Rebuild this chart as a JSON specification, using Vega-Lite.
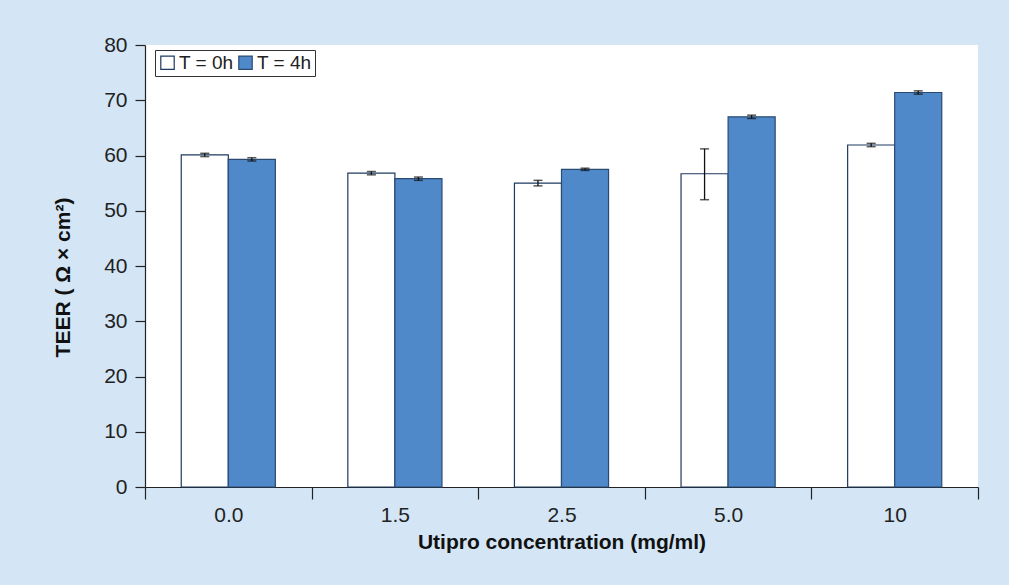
{
  "$schema": "https://vega.github.io/schema/vega-lite/v6.json",
  "autosize": {"type": "none"},
  "width": 833,
  "height": 442,
  "padding": {"left": 145, "top": 45, "right": 31, "bottom": 98},
  "background": "#d4e6f5",
  "config": {
    "view": {"fill": "white", "stroke": null},
    "font": "Liberation Sans",
    "axis": {
      "domainColor": "#222", "tickColor": "#222", "domainWidth": 1.2, "tickWidth": 1.2,
      "labelFontSize": 21, "labelColor": "#222", "labelOverlap": false,
      "titleFontSize": 21, "titleFontWeight": "bold", "titleColor": "#111", "grid": false
    }
  },
  "data": {
    "values": [
      {"conc": "0.0", "time": "T = 0h", "value": 60.1, "lo": 59.8, "hi": 60.4},
      {"conc": "0.0", "time": "T = 4h", "value": 59.3, "lo": 59.0, "hi": 59.6},
      {"conc": "1.5", "time": "T = 0h", "value": 56.8, "lo": 56.5, "hi": 57.1},
      {"conc": "1.5", "time": "T = 4h", "value": 55.8, "lo": 55.5, "hi": 56.1},
      {"conc": "2.5", "time": "T = 0h", "value": 55.0, "lo": 54.5, "hi": 55.5},
      {"conc": "2.5", "time": "T = 4h", "value": 57.5, "lo": 57.3, "hi": 57.7},
      {"conc": "5.0", "time": "T = 0h", "value": 56.7, "lo": 52.0, "hi": 61.2},
      {"conc": "5.0", "time": "T = 4h", "value": 67.0, "lo": 66.7, "hi": 67.3},
      {"conc": "10", "time": "T = 0h", "value": 61.9, "lo": 61.6, "hi": 62.2},
      {"conc": "10", "time": "T = 4h", "value": 71.4, "lo": 71.1, "hi": 71.7}
    ]
  },
  "encoding": {
    "x": {
      "field": "conc", "type": "nominal", "sort": ["0.0", "1.5", "2.5", "5.0", "10"],
      "scale": {"paddingInner": 0, "paddingOuter": 0},
      "axis": {
        "title": "Utipro concentration (mg/ml)", "labelAngle": 0, "tickBand": "extent",
        "tickSize": 12, "labelPadding": 5, "titlePadding": 6
      }
    },
    "xOffset": {"field": "time", "type": "nominal", "scale": {"paddingOuter": 0.77, "paddingInner": 0}}
  },
  "layer": [
    {
      "mark": {"type": "bar", "strokeWidth": 1.2},
      "encoding": {
        "y": {
          "field": "value", "type": "quantitative", "scale": {"domain": [0, 80]},
          "axis": {
            "title": "TEER ( Ω × cm²)", "values": [0,10,20,30,40,50,60,70,80],
            "tickSize": 10, "labelPadding": 8, "titleX": -72, "titleY": 232
          }
        },
        "fill": {
          "field": "time", "type": "nominal",
          "scale": {"domain": ["T = 0h", "T = 4h"], "range": ["#ffffff", "#5089c9"]},
          "legend": {
            "title": null, "orient": "none", "legendX": 10, "legendY": 5, "direction": "horizontal",
            "symbolType": "square", "symbolSize": 180, "symbolStrokeColor": "#2a4a72", "symbolStrokeWidth": 1.2,
            "labelFontSize": 19, "labelColor": "#222", "labelOffset": 2, "columnPadding": 2,
            "strokeColor": "#333", "fillColor": "white", "padding": 3
          }
        },
        "stroke": {
          "field": "time", "type": "nominal",
          "scale": {"domain": ["T = 0h", "T = 4h"], "range": ["#1f3a60", "#2a4a72"]},
          "legend": null
        }
      }
    },
    {
      "mark": {"type": "rule", "color": "#111", "strokeWidth": 1.3},
      "encoding": {
        "y": {
          "field": "lo", "type": "quantitative", "scale": {"domain": [0, 80]},
          "axis": {
            "title": "TEER ( Ω × cm²)", "values": [0,10,20,30,40,50,60,70,80],
            "tickSize": 10, "labelPadding": 8, "titleX": -72, "titleY": 232
          }
        },
        "y2": {"field": "hi"}
      }
    },
    {
      "mark": {"type": "tick", "color": "#111", "thickness": 1.5, "size": 9, "orient": "horizontal"},
      "encoding": {
        "y": {
          "field": "lo", "type": "quantitative", "scale": {"domain": [0, 80]},
          "axis": {
            "title": "TEER ( Ω × cm²)", "values": [0,10,20,30,40,50,60,70,80],
            "tickSize": 10, "labelPadding": 8, "titleX": -72, "titleY": 232
          }
        }
      }
    },
    {
      "mark": {"type": "tick", "color": "#111", "thickness": 1.5, "size": 9, "orient": "horizontal"},
      "encoding": {
        "y": {
          "field": "hi", "type": "quantitative", "scale": {"domain": [0, 80]},
          "axis": {
            "title": "TEER ( Ω × cm²)", "values": [0,10,20,30,40,50,60,70,80],
            "tickSize": 10, "labelPadding": 8, "titleX": -72, "titleY": 232
          }
        }
      }
    }
  ]
}
